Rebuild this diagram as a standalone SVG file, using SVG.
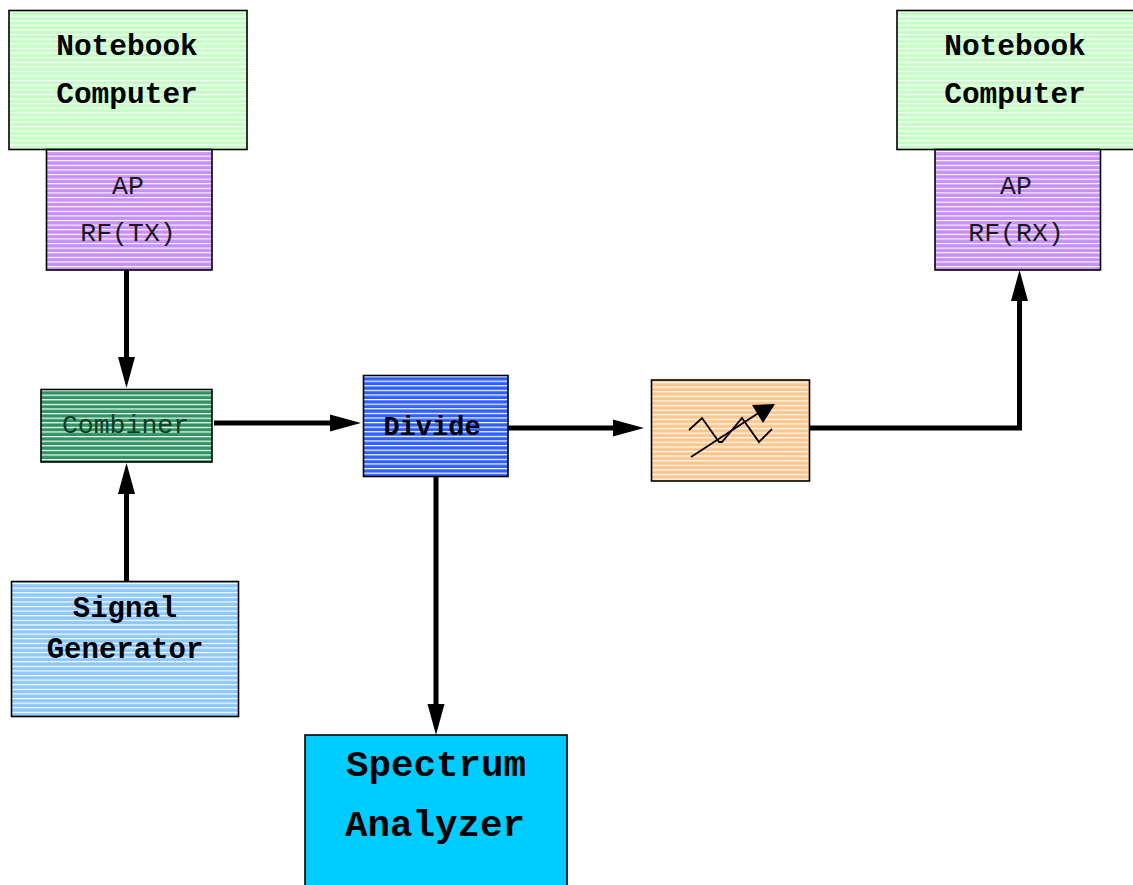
<svg xmlns="http://www.w3.org/2000/svg" width="1133" height="885" viewBox="0 0 1133 885">
<style>
.box{stroke:#000;stroke-width:1.6}
.t{font-family:"Liberation Mono","Courier New",monospace;text-anchor:middle;fill:#000}
.b{font-weight:bold}
.n{fill:#1a1a1a}
.c{fill:none;stroke:#000;stroke-width:5}
.i{fill:none;stroke:#000;stroke-width:1.8}
</style>
<defs>
<marker id="arr" markerUnits="userSpaceOnUse" markerWidth="32" markerHeight="20" refX="21" refY="10" orient="auto"><path d="M0 1.500L31 10L0 18.500Z" fill="#000"/></marker>
<pattern id="pG" width="10" height="4.6" patternUnits="userSpaceOnUse" y="11"><rect width="10" height="4.6" fill="#c6ffc6"/><rect width="10" height="1.100" fill="#fff"/></pattern>
<pattern id="pP" width="10" height="4.6" patternUnits="userSpaceOnUse" y="151"><rect width="10" height="4.6" fill="#c78fff"/><rect width="10" height="1.100" fill="#fff"/></pattern>
<pattern id="pC" width="10" height="4.6" patternUnits="userSpaceOnUse" y="390"><rect width="10" height="4.6" fill="#2f9362"/><rect width="10" height="1.200" fill="#fff"/></pattern>
<pattern id="pD" width="10" height="4.6" patternUnits="userSpaceOnUse" y="376"><rect width="10" height="4.6" fill="#2f60ff"/><rect width="10" height="1.200" fill="#fff"/></pattern>
<pattern id="pO" width="10" height="4.6" patternUnits="userSpaceOnUse" y="382"><rect width="10" height="4.6" fill="#ffc78f"/><rect width="10" height="1.100" fill="#fff"/></pattern>
<pattern id="pS" width="10" height="4.6" patternUnits="userSpaceOnUse" y="583"><rect width="10" height="4.6" fill="#8fc7ff"/><rect width="10" height="1.100" fill="#fff"/></pattern>
</defs>
<g id="connectors">
<path class="c" d="M126.500 270V378" marker-end="url(#arr)"/>
<path class="c" d="M126.500 581V473" marker-end="url(#arr)"/>
<path class="c" d="M214 423H351" marker-end="url(#arr)"/>
<path class="c" d="M508 428H634" marker-end="url(#arr)"/>
<path class="c" d="M436 476V725" marker-end="url(#arr)"/>
<path class="c" d="M810 428H1019.500V280" marker-end="url(#arr)"/>
</g>
<g id="notebook-tx"><rect class="box" x="9" y="10.500" width="238" height="139" fill="url(#pG)"/><text class="t b" x="127" y="55" font-size="29.500">Notebook</text><text class="t b" x="127" y="103" font-size="29.500">Computer</text></g>
<g id="ap-tx"><rect class="box" x="46.500" y="149.500" width="165.500" height="120.500" fill="url(#pP)"/><text class="t n" x="128" y="194" font-size="26.500">AP</text><text class="t n" x="128" y="241" font-size="26.500">RF(TX)</text></g>
<g id="notebook-rx"><rect class="box" x="897" y="10.500" width="238" height="139" fill="url(#pG)"/><text class="t b" x="1015" y="55" font-size="29.500">Notebook</text><text class="t b" x="1015" y="103" font-size="29.500">Computer</text></g>
<g id="ap-rx"><rect class="box" x="935" y="149.500" width="165.500" height="120.500" fill="url(#pP)"/><text class="t n" x="1016" y="194" font-size="26.500">AP</text><text class="t n" x="1016" y="241" font-size="26.500">RF(RX)</text></g>
<g id="combiner"><rect class="box" x="41" y="389.500" width="171" height="72.500" fill="url(#pC)"/><text class="t" x="125.500" y="433" font-size="26.500" style="fill:#0c3f26">Combiner</text></g>
<g id="divide"><rect class="box" x="363.500" y="375.500" width="144.500" height="101" fill="url(#pD)"/><text class="t b" x="432" y="435" font-size="27">Divide</text></g>
<g id="attenuator"><rect class="box" x="651.500" y="380" width="158" height="101" fill="url(#pO)"/>
<path class="i" d="M689 430L702 418L719 442L722 442L742 418L759 442L772 429"/><path class="i" d="M691 457L760 412"/><path d="M752 405L775 404L763 423Z" fill="#000"/></g>
<g id="signal-generator"><rect class="box" x="11.500" y="581.500" width="227" height="135" fill="url(#pS)"/><text class="t b" x="125" y="617" font-size="29">Signal</text><text class="t b" x="125" y="658" font-size="29">Generator</text></g>
<g id="spectrum-analyzer"><rect class="box" x="305" y="735" width="262" height="152" fill="#00ccff"/><text class="t b" x="436" y="776" font-size="37.500">Spectrum</text><text class="t b" x="435" y="836" font-size="37.500">Analyzer</text></g>
</svg>
